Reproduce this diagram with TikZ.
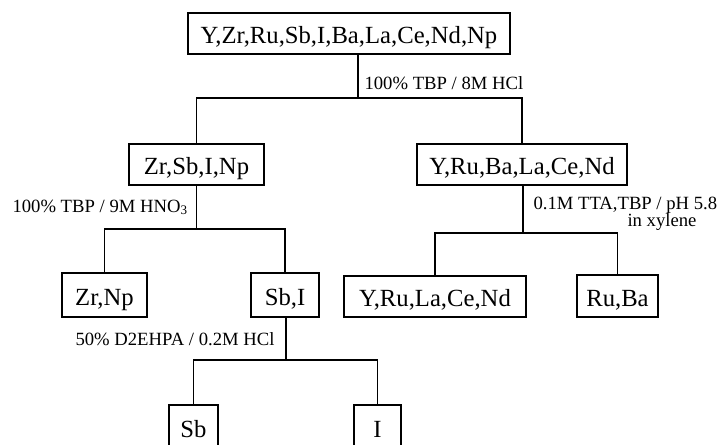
\documentclass[tikz,border=0pt]{standalone}
\usepackage{fontspec}
\setmainfont{Liberation Serif}
\usetikzlibrary{positioning,calc}

\begin{document}
\begin{tikzpicture}[x=0.75pt,y=-0.75pt,line width=0.8pt,
  frac/.style={draw, inner sep=0pt, minimum height=41*0.75pt,
    text height=18pt, text depth=3pt, font=\fontsize{18.5}{20}\selectfont},
  cond/.style={inner sep=0pt, anchor=base west, font=\fontsize{14}{12}\selectfont}]
  \useasboundingbox (0,0) rectangle (717,444);

  % fractions
  \node[frac, minimum width=322*0.75pt] (feed) at (349,33.5) {Y,Zr,Ru,Sb,I,Ba,La,Ce,Nd,Np};
  \node[frac, minimum width=135*0.75pt] (zsin) at (196.5,164.5) {Zr,Sb,I,Np};
  \node[frac, minimum width=210*0.75pt] (yrbl) at (522,164.5) {Y,Ru,Ba,La,Ce,Nd};
  \node[frac, minimum width=85*0.75pt, minimum height=44*0.75pt] (zrnp) at (104.5,295) {Zr,Np};
  \node[frac, minimum width=68*0.75pt, minimum height=44*0.75pt] (sbi) at (285,295) {Sb,I};
  \node[frac, minimum width=182*0.75pt] (yrlc) at (435,296.5) {Y,Ru,La,Ce,Nd};
  \node[frac, minimum width=81*0.75pt, minimum height=42*0.75pt] (ruba) at (617.5,296) {Ru,Ba};
  \node[frac, minimum width=49*0.75pt, minimum height=44*0.75pt] (sb) at (193.5,427) {Sb};
  \node[frac, minimum width=47*0.75pt, minimum height=44*0.75pt] (iod) at (377.5,427) {I};

  % split points
  \coordinate (s1) at (358,98);
  \coordinate (s2) at (196.5,229);
  \coordinate (s3) at (523,233);
  \coordinate (s4) at (286,360);

  \draw (feed.south -| s1) -- (s1);
  \draw (zsin.north) |- (s1) -| (yrbl.north);
  \draw (zsin.south) -- (s2);
  \draw (zrnp.north) |- (s2) -| (sbi.north);
  \draw (yrbl.south -| s3) -- (s3);
  \draw (yrlc.north) |- (s3) -| (ruba.north);
  \draw (sbi.south -| s4) -- (s4);
  \draw (sb.north) |- (s4) -| (iod.north);

  % conditions
  \node[cond] (c1) at (364,89) {100\% TBP / 8M HCl};
  \node[cond] (c2) at (12,212) {100\% TBP / 9M HNO\textsubscript{3}};
  \node[cond] (c3) at (533,209) {0.1M TTA,TBP / pH 5.8};
  \node[cond] (c3b) at (627,226) {in xylene};
  \node[cond] (c4) at (75,345) {50\% D2EHPA / 0.2M HCl};
\end{tikzpicture}
\end{document}
